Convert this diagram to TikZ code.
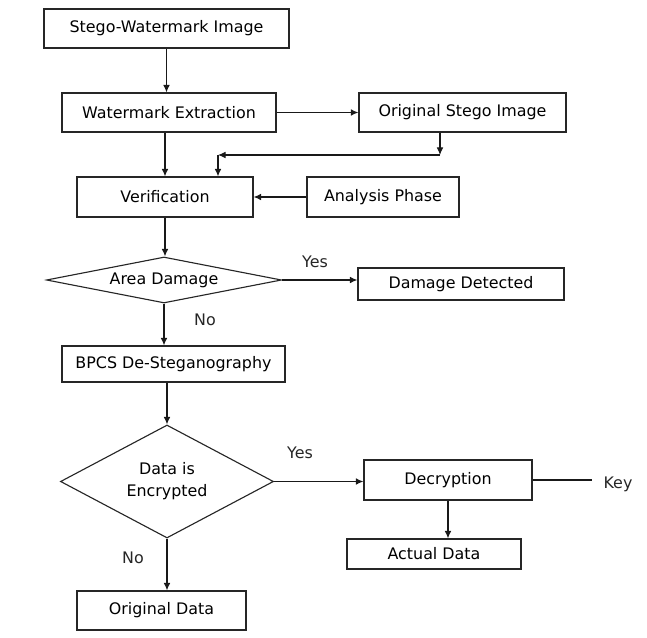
\documentclass[tikz,border=0pt]{standalone}
\usepackage{fontspec}
\setmainfont{DejaVu Sans}
\usepackage{tikz}
\usetikzlibrary{shapes.geometric, arrows.meta, positioning, calc}

\begin{document}
\begin{tikzpicture}[x=0.025cm, y=-0.025cm, font=\fontsize{11.3}{15.6}\selectfont,
        box/.style={rectangle, draw=black!85, line width=0.8pt, fill=white, inner sep=2pt, text centered},
        decision/.style={diamond, draw=black!85, line width=0.8pt, inner sep=0pt, align=center},
        answer/.style={inner sep=0pt, text=black!85},
        line/.style={draw=black!90, line width=0.8pt, -{Latex[length=1.9mm, width=1.7mm]}}]
        \useasboundingbox (0,0) rectangle (647,638);

        \node [box, minimum width=6.125cm, minimum height=0.975cm] (stego) at (166.5,28.5) {Stego-Watermark Image};
        \node [box, minimum width=5.35cm, minimum height=0.975cm] (wmext) at (169,112.5) {Watermark Extraction};
        \node [box, minimum width=5.175cm, minimum height=0.975cm] (origstego) at (462.5,112.5) {Original Stego Image};
        \node [box, minimum width=4.4cm, minimum height=1cm] (verif) at (165,197) {Verification};
        \node [box, minimum width=3.8cm, minimum height=1cm] (analysis) at (383,197) {Analysis Phase};
        \node [decision, aspect=5.1, minimum width=5.875cm, minimum height=1.15cm] (area) at (164,280) {Area Damage};
        \node [box, minimum width=5.15cm, minimum height=0.8cm] (damage) at (461,284) {Damage Detected};
        \node [box, minimum width=5.575cm, minimum height=0.9cm] (bpcs) at (173.5,364) {BPCS De-Steganography};
        \node [decision, aspect=1.9, minimum width=5.325cm, minimum height=2.825cm] (enc) at (167,481.5) {Data is\\Encrypted};
        \node [box, minimum width=4.2cm, minimum height=1cm] (decrypt) at (448,480) {Decryption};
        \node [box, minimum width=4.35cm, minimum height=0.75cm] (actual) at (434,554) {Actual Data};
        \node [box, minimum width=4.225cm, minimum height=0.975cm] (origdata) at (161.5,610.5) {Original Data};

        \node [answer] (yes1) at (315,262) {Yes};
        \node [answer] (no1) at (205,320) {No};
        \node [answer] (yes2) at (300,453) {Yes};
        \node [answer] (no2) at (133,558) {No};
        \node [answer] (key) at (618,484) {Key};

        \coordinate (bend1) at (440,155);
        \coordinate (bend2) at (218,155);
        \coordinate (keyend) at (592,482);

        \path [line] (stego.south) -- (stego.south |- wmext.north);
        \path [line] (wmext.east) -- (origstego.west);
        \path [line] (bend1 |- origstego.south) -- (bend1);
        \path [line] (bend1) -- (bend2);
        \path [line] (bend2) -- (bend2 |- verif.north);
        \path [line] (verif.north |- wmext.south) -- (verif.north);
        \path [line] (analysis.west) -- (verif.east);
        \path [line] (verif.south) -- (verif.south |- area.north);
        \path [line] (area.east) -- (area.east -| damage.west);
        \path [line] (area.south) -- (area.south |- bpcs.north);
        \path [line] (enc.north |- bpcs.south) -- (enc.north);
        \path [line] (enc.east) -- (enc.east -| decrypt.west);
        \draw [draw=black!90, line width=0.8pt] (decrypt.east) -- (decrypt.east -| keyend);
        \path [line] (decrypt.south) -- (decrypt.south |- actual.north);
        \path [line] (enc.south) -- (enc.south |- origdata.north);
    \end{tikzpicture}
\end{document}
